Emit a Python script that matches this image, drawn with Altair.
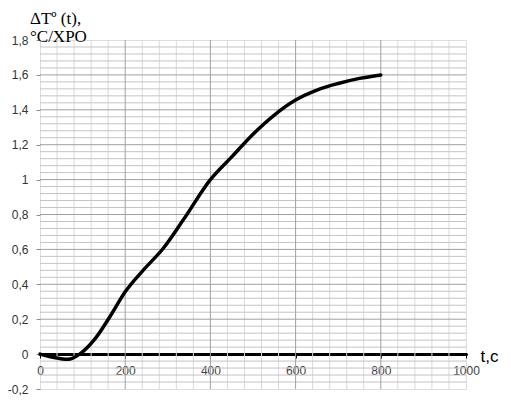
import altair as alt
import pandas as pd

# curve data
t_vals = [0, 30, 66, 93, 130, 164, 200, 242, 289, 336, 400, 450, 500, 550, 600, 650, 700, 750, 800]
dT_vals = [0, -0.018, -0.03, 0, 0.09, 0.214, 0.357, 0.48, 0.605, 0.768, 1.0, 1.13, 1.26, 1.37, 1.456, 1.513, 1.551, 1.58, 1.60]

# ticks / grid positions
x_major = [0, 200, 400, 600, 800, 1000]
y_major = [-0.2, 0, 0.2, 0.4, 0.6, 0.8, 1.0, 1.2, 1.4, 1.6, 1.8]
x_minor = [v for v in range(40, 1000, 40) if v % 200 != 0]
y_minor = [round(-0.2 + 0.04 * i, 2) for i in range(51) if i % 5 != 0]

xscale = alt.Scale(domain=[0, 1000], nice=False, zero=False)
yscale = alt.Scale(domain=[-0.2, 1.8], nice=False, zero=False)

xaxis = alt.Axis(
    values=x_major, offset=-35, grid=False,
    domain=True, domainColor="black", domainWidth=3, domainCap="round",
    ticks=True, tickSize=4, tickColor="black", tickWidth=1,
    labelExpr="toString(datum.value)",
    labelFont="Liberation Sans", labelFontSize=12, labelColor="#404040",
    labelPadding=7, labelFlush=False, labelOverlap=False,
    title="t,c", titleX=440, titleY=2, titleAlign="left", titleBaseline="middle",
    titleFont="Liberation Sans", titleFontSize=17, titleFontWeight="normal",
    titleColor="black", titleAngle=0,
)
yaxis = alt.Axis(
    values=y_major, grid=False, domain=False,
    ticks=True, tickSize=4, tickColor="#8c8c8c",
    labelExpr="replace(toString(round(datum.value*10)/10), '.', ',')",
    labelFont="Liberation Sans", labelFontSize=12, labelColor="#333333",
    labelPadding=8, labelFlush=False, labelOverlap=False,
    title=None,
)

X = lambda: alt.X("x:Q", scale=xscale, axis=xaxis)
Y = lambda: alt.Y("y:Q", scale=yscale, axis=yaxis)

vminor = alt.Chart(pd.DataFrame({"x": x_minor})).mark_rule(color="#dadada", strokeWidth=1).encode(x=X())
hminor = alt.Chart(pd.DataFrame({"y": y_minor})).mark_rule(color="#c4c4c4", strokeWidth=1).encode(y=Y())
vmajor = alt.Chart(pd.DataFrame({"x": x_major[1:-1]})).mark_rule(color="#a0a0a0", strokeWidth=1).encode(x=X())
hmajor = alt.Chart(pd.DataFrame({"y": [v for v in y_major if v not in (-0.2, 0, 1.8)]})).mark_rule(color="#a0a0a0", strokeWidth=1).encode(y=Y())

curve = alt.Chart(pd.DataFrame({"x": t_vals, "y": dT_vals})).mark_line(
    color="black", strokeWidth=3.5, interpolate="monotone", strokeCap="round"
).encode(x=X(), y=Y())

chart = alt.layer(vminor, hminor, vmajor, hmajor, curve).properties(
    width=426, height=349,
    autosize=alt.AutoSizeParams(type="none"),
    padding={"left": 32, "top": 32, "right": 37, "bottom": 8},
    title=alt.TitleParams(
        text=["ΔTº (t),", "°C/XPO"], anchor="start", frame="group",
        dx=-10, offset=-12, font="Liberation Serif, DejaVu Serif, serif", fontSize=17,
        fontWeight="normal", color="black", lineHeight=18,
    ),
).configure_view(stroke="#8c8c8c", strokeWidth=1).configure(background="white")

chart.save("out.html", embed_options={"renderer": "svg", "actions": False})
